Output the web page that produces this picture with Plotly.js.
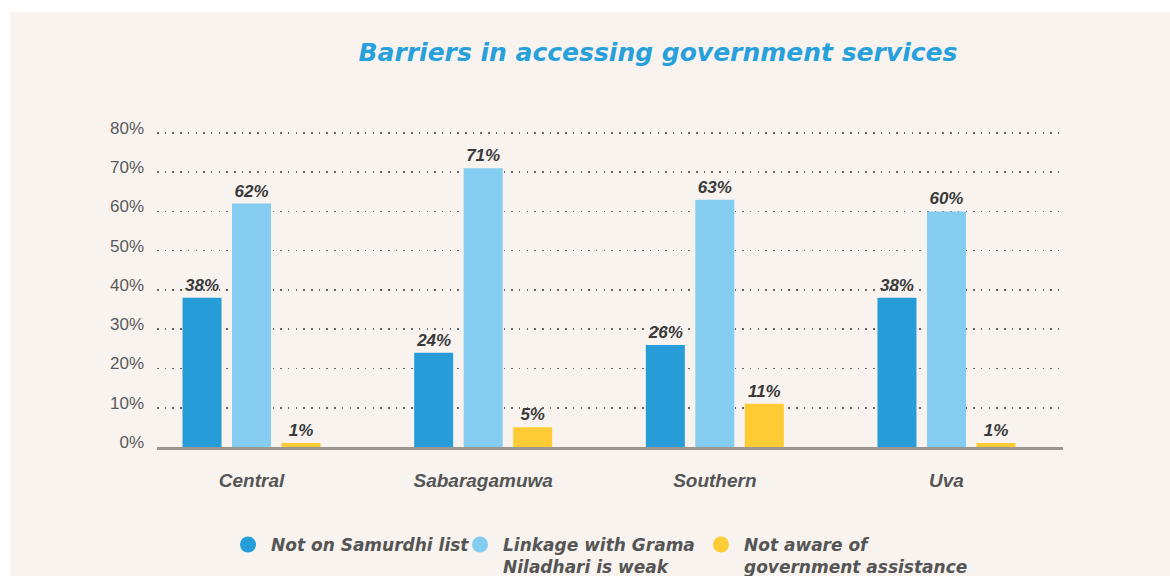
<!DOCTYPE html>
<html>
<head>
<meta charset="utf-8">
<script src="https://cdn.plot.ly/plotly-3.0.1.min.js"></script>
<style>
  html, body { margin: 0; padding: 0; background: #ffffff; width: 1170px; height: 576px; overflow: hidden; }
  #chart { position: absolute; left: 10px; top: 12px; width: 1160px; height: 564px; }
</style>
</head>
<body>
<div id="chart"></div>
<script>
const regions = ["Central", "Sabaragamuwa", "Southern", "Uva"];
const notOnSamurdhi = [38, 24, 26, 38];
const linkageWeak = [62, 71, 63, 60];
const notAware = [1, 5, 11, 1];
const seriesNames = ["Not on Samurdhi list", "Linkage with Grama<br>Niladhari is weak", "Not aware of<br>government assistance"];
const seriesColors = ["#269cd8", "#85cdf0", "#fecb35"];
const yTicks = [0, 10, 20, 30, 40, 50, 60, 70, 80];

const seriesValues = [notOnSamurdhi, linkageWeak, notAware];
const labelFont = {family: "Liberation Sans, Arial, sans-serif", size: 17, color: "#3a3a3a", weight: "bold", style: "italic"};
const legendIds = ["legend", "legend2", "legend3"];
const legendLeft = [215, 447, 688];

const traces = [];
seriesValues.forEach((vals, i) => {
  traces.push({
    type: "bar",
    x: regions,
    y: vals,
    name: seriesNames[i],
    marker: {color: seriesColors[i]},
    text: vals.map(v => v + "%"),
    textposition: "outside",
    textfont: labelFont,
    cliponaxis: false,
    showlegend: false,
    hoverinfo: "skip"
  });
});
seriesValues.forEach((vals, i) => {
  traces.push({
    type: "scatter",
    mode: "markers",
    x: [null],
    y: [null],
    name: seriesNames[i],
    legend: legendIds[i],
    marker: {color: seriesColors[i], size: 20, symbol: "circle"},
    showlegend: true
  });
});

function legendSpec(left) {
  return {
    orientation: "h",
    xref: "container", x: left / 1160, xanchor: "left",
    yref: "container", y: 0.087, yanchor: "top",
    bgcolor: "rgba(0,0,0,0)",
    itemwidth: 36,
    valign: "top",
    font: {family: "DejaVu Sans, Verdana, sans-serif", size: 17, color: "#555555", weight: "bold", style: "italic"}
  };
}

const layout = {
  width: 1160,
  height: 564,
  paper_bgcolor: "#f8f3ef",
  plot_bgcolor: "#f8f3ef",
  margin: {l: 147, r: 107, t: 119, b: 129},
  barmode: "group",
  bargap: 0.359,
  bargroupgap: 0.212,
  title: {
    text: "Barriers in accessing government services",
    font: {family: "DejaVu Sans, Verdana, sans-serif", size: 25, color: "#27a0dc", weight: "bold", style: "italic"},
    xref: "container", x: 0.5586, xanchor: "center",
    yref: "container", y: 0.929, yanchor: "middle"
  },
  xaxis: {
    type: "category",
    range: [-0.408, 3.503],
    showgrid: false,
    showline: true,
    linecolor: "#9b9591",
    linewidth: 2.5,
    ticks: "",
    ticklabelstandoff: 15,
    tickfont: {family: "Liberation Sans, Arial, sans-serif", size: 19, color: "#555555", weight: "bold", style: "italic"},
    zeroline: false,
    fixedrange: true
  },
  yaxis: {
    range: [0, 80.5],
    tickvals: yTicks,
    ticktext: yTicks.map(v => v + "%"),
    showgrid: true,
    gridcolor: "#666666",
    gridwidth: 1.5,
    griddash: "1.5px,6.2px",
    zeroline: false,
    showline: false,
    ticks: "",
    ticklabelstandoff: 12,
    ticklabelshift: -5,
    tickfont: {family: "Liberation Sans, Arial, sans-serif", size: 17, color: "#5a5a5a"},
    fixedrange: true
  },
  showlegend: true,
  legend: legendSpec(legendLeft[0]),
  legend2: legendSpec(legendLeft[1]),
  legend3: legendSpec(legendLeft[2]),
  hovermode: false
};

Plotly.newPlot("chart", traces, layout, {displayModeBar: false, staticPlot: true});
</script>
</body>
</html>
